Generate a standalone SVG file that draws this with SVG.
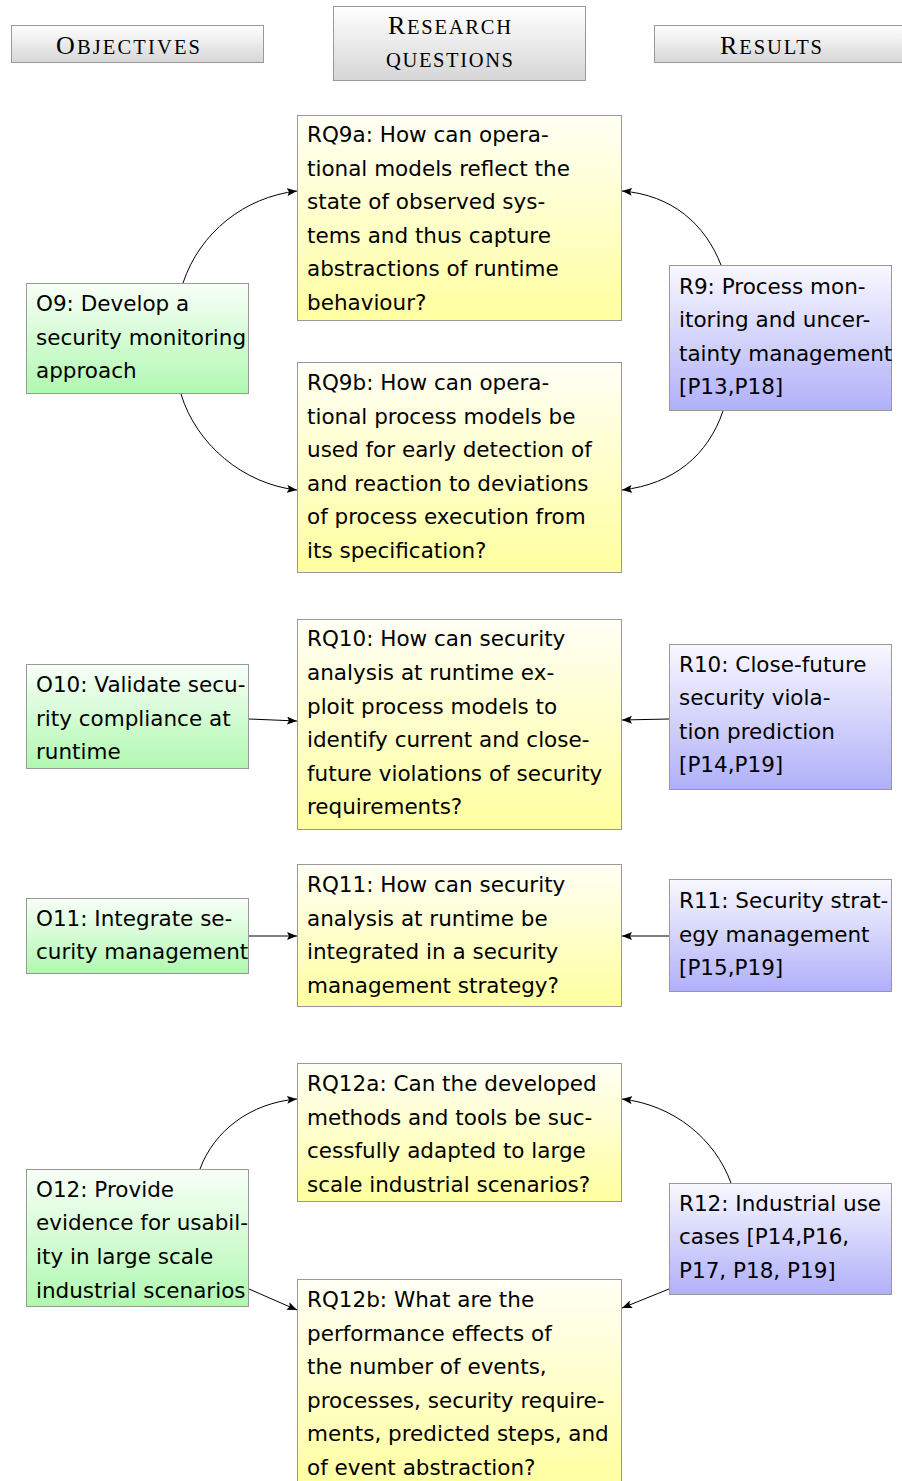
<svg xmlns="http://www.w3.org/2000/svg" width="902" height="1481" viewBox="0 0 902 1481">
<style>
.t{font-family:"DejaVu Sans",sans-serif;font-size:21.5px;fill:#000}
.h{font-family:"Liberation Serif",serif;font-size:20.5px;fill:#000}
.h .k{font-size:26px}
.b{stroke:#999;stroke-width:1}
.c{fill:none;stroke:#000;stroke-width:1;marker-end:url(#ah)}
</style>
<defs>
<linearGradient id="gy" x1="0" y1="0" x2="0" y2="1"><stop offset="0" stop-color="#fffff5"/><stop offset="1" stop-color="#ffffa0"/></linearGradient>
<linearGradient id="gg" x1="0" y1="0" x2="0" y2="1"><stop offset="0" stop-color="#f8fff8"/><stop offset="1" stop-color="#b0f8b0"/></linearGradient>
<linearGradient id="gb" x1="0" y1="0" x2="0" y2="1"><stop offset="0" stop-color="#f8f8ff"/><stop offset="1" stop-color="#b0b0fa"/></linearGradient>
<linearGradient id="gh" x1="0" y1="0" x2="0" y2="1"><stop offset="0" stop-color="#ffffff"/><stop offset="1" stop-color="#d6d6d6"/></linearGradient>
<marker id="ah" viewBox="0 0 10 8" refX="10" refY="4" markerWidth="10" markerHeight="8" markerUnits="userSpaceOnUse" orient="auto"><path d="M0,0 L10,4 L0,8 L2,4 Z" fill="#000"/></marker>
</defs>

<g id="hdr-objectives"><rect class="b" x="11.5" y="25.5" width="252" height="37" fill="url(#gh)"/><text class="h" x="56" y="54" textLength="144" lengthAdjust="spacing"><tspan class="k">O</tspan>BJECTIVES</text></g>
<g id="hdr-rq"><rect class="b" x="333.5" y="6.5" width="252" height="74" fill="url(#gh)"/><text class="h" x="388" y="34" textLength="123" lengthAdjust="spacing"><tspan class="k">R</tspan>ESEARCH</text><text class="h" x="386" y="67" textLength="127" lengthAdjust="spacing">QUESTIONS</text></g>
<g id="hdr-results"><rect class="b" x="654.5" y="25.5" width="252" height="37" fill="url(#gh)"/><text class="h" x="720" y="54" textLength="102" lengthAdjust="spacing"><tspan class="k">R</tspan>ESULTS</text></g>

<g id="connectors">
<path class="c" d="M183,283 C200,232 245,197 297,191"/>
<path class="c" d="M181,394 C196,444 243,484 297,490"/>
<path class="c" d="M721,265 C705,224 672,195 622,191"/>
<path class="c" d="M723,411 C708,455 674,484 622,490"/>
<path class="c" d="M249,719 L297,721"/>
<path class="c" d="M669,719 L622,720"/>
<path class="c" d="M249,936 L297,936"/>
<path class="c" d="M669,936 L622,936"/>
<path class="c" d="M200,1169 C214,1131 250,1103 297,1099"/>
<path class="c" d="M731,1183 C715,1139 674,1105 622,1099"/>
<path class="c" d="M249,1289 L297,1310"/>
<path class="c" d="M669,1289 L622,1308"/>
</g>

<g id="RQ9a"><rect class="b" x="297.5" y="115.5" width="324" height="205" fill="url(#gy)"/>
<text class="t" x="307" y="142">RQ9a: How can opera-</text><text class="t" x="307" y="176">tional models reflect the</text><text class="t" x="307" y="209">state of observed sys-</text><text class="t" x="307" y="243">tems and thus capture</text><text class="t" x="307" y="276">abstractions of runtime</text><text class="t" x="307" y="310">behaviour?</text></g>

<g id="RQ9b"><rect class="b" x="297.5" y="362.5" width="324" height="210" fill="url(#gy)"/>
<text class="t" x="307" y="390">RQ9b: How can opera-</text><text class="t" x="307" y="424">tional process models be</text><text class="t" x="307" y="457">used for early detection of</text><text class="t" x="307" y="491">and reaction to deviations</text><text class="t" x="307" y="524">of process execution from</text><text class="t" x="307" y="558">its specification?</text></g>

<g id="O9"><rect class="b" x="26.5" y="283.5" width="222" height="110" fill="url(#gg)"/>
<text class="t" x="36" y="311">O9: Develop a</text><text class="t" x="36" y="345">security monitoring</text><text class="t" x="36" y="378">approach</text></g>

<g id="R9"><rect class="b" x="669.5" y="265.5" width="222" height="145" fill="url(#gb)"/>
<text class="t" x="679" y="294">R9: Process mon-</text><text class="t" x="679" y="327">itoring and uncer-</text><text class="t" x="679" y="361">tainty management</text><text class="t" x="679" y="394">[P13,P18]</text></g>

<g id="RQ10"><rect class="b" x="297.5" y="619.5" width="324" height="210" fill="url(#gy)"/>
<text class="t" x="307" y="646">RQ10: How can security</text><text class="t" x="307" y="680">analysis at runtime ex-</text><text class="t" x="307" y="714">ploit process models to</text><text class="t" x="307" y="747">identify current and close-</text><text class="t" x="307" y="781">future violations of security</text><text class="t" x="307" y="814">requirements?</text></g>

<g id="O10"><rect class="b" x="26.5" y="664.5" width="222" height="104" fill="url(#gg)"/>
<text class="t" x="36" y="692">O10: Validate secu-</text><text class="t" x="36" y="726">rity compliance at</text><text class="t" x="36" y="759">runtime</text></g>

<g id="R10"><rect class="b" x="669.5" y="644.5" width="222" height="145" fill="url(#gb)"/>
<text class="t" x="679" y="672">R10: Close-future</text><text class="t" x="679" y="705">security viola-</text><text class="t" x="679" y="739">tion prediction</text><text class="t" x="679" y="772">[P14,P19]</text></g>

<g id="RQ11"><rect class="b" x="297.5" y="864.5" width="324" height="142" fill="url(#gy)"/>
<text class="t" x="307" y="892">RQ11: How can security</text><text class="t" x="307" y="926">analysis at runtime be</text><text class="t" x="307" y="959">integrated in a security</text><text class="t" x="307" y="993">management strategy?</text></g>

<g id="O11"><rect class="b" x="26.5" y="898.5" width="222" height="75" fill="url(#gg)"/>
<text class="t" x="36" y="926">O11: Integrate se-</text><text class="t" x="36" y="959">curity management</text></g>

<g id="R11"><rect class="b" x="669.5" y="879.5" width="222" height="112" fill="url(#gb)"/>
<text class="t" x="679" y="908">R11: Security strat-</text><text class="t" x="679" y="942">egy management</text><text class="t" x="679" y="975">[P15,P19]</text></g>

<g id="RQ12a"><rect class="b" x="297.5" y="1063.5" width="324" height="138" fill="url(#gy)"/>
<text class="t" x="307" y="1091">RQ12a: Can the developed</text><text class="t" x="307" y="1125">methods and tools be suc-</text><text class="t" x="307" y="1158">cessfully adapted to large</text><text class="t" x="307" y="1192">scale industrial scenarios?</text></g>

<g id="O12"><rect class="b" x="26.5" y="1169.5" width="222" height="137" fill="url(#gg)"/>
<text class="t" x="36" y="1197">O12: Provide</text><text class="t" x="36" y="1230">evidence for usabil-</text><text class="t" x="36" y="1264">ity in large scale</text><text class="t" x="36" y="1298">industrial scenarios</text></g>

<g id="R12"><rect class="b" x="669.5" y="1183.5" width="222" height="111" fill="url(#gb)"/>
<text class="t" x="679" y="1211">R12: Industrial use</text><text class="t" x="679" y="1244">cases [P14,P16,</text><text class="t" x="679" y="1278">P17, P18, P19]</text></g>

<g id="RQ12b"><rect class="b" x="297.5" y="1279.5" width="324" height="210" fill="url(#gy)"/>
<text class="t" x="307" y="1307">RQ12b: What are the</text><text class="t" x="307" y="1341">performance effects of</text><text class="t" x="307" y="1374">the number of events,</text><text class="t" x="307" y="1408">processes, security require-</text><text class="t" x="307" y="1441">ments, predicted steps, and</text><text class="t" x="307" y="1475">of event abstraction?</text></g>
</svg>
